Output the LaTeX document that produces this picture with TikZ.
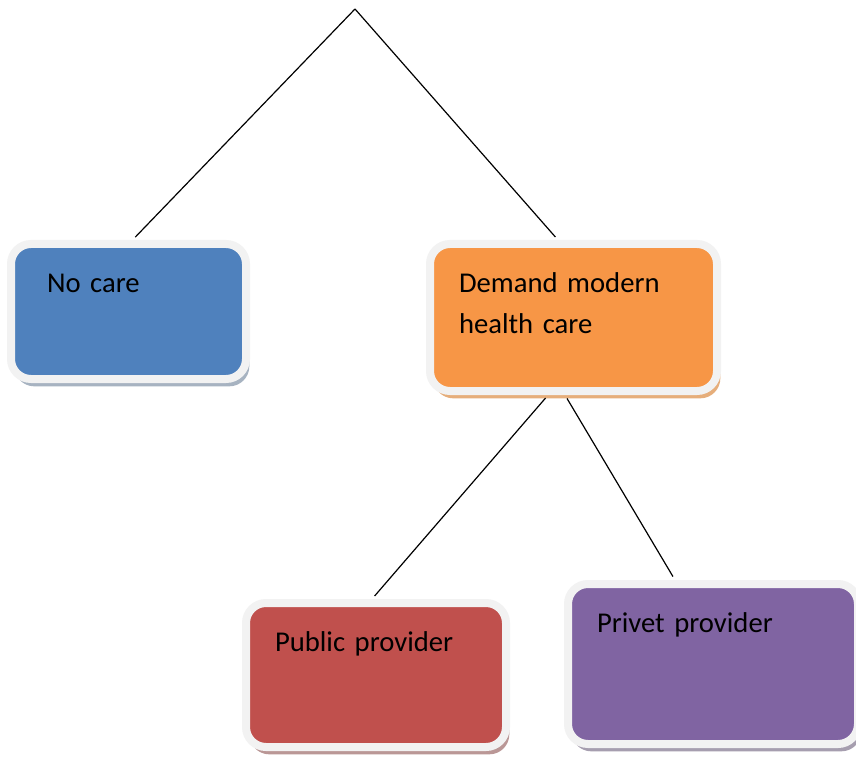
\documentclass[tikz,border=0pt]{standalone}
\usepackage{fontspec}
\setmainfont{Carlito}
\usetikzlibrary{shadows}

\definecolor{nocareblue}{HTML}{4F81BD}
\definecolor{demandorange}{HTML}{F79646}
\definecolor{publicred}{HTML}{C0504D}
\definecolor{privetpurple}{HTML}{8064A2}
\definecolor{rimgrey}{HTML}{F2F2F2}

\tikzset{
  choicebox/.style 2 args={rectangle, rounded corners=15pt, draw=rimgrey,
    line width=6pt, fill=#1, align=left, inner ysep=0pt, inner xsep=21.75pt,
    text height=36pt, font=\fontsize{21.5pt}{31pt}\selectfont,
    drop shadow={shadow xshift=2.5pt, shadow yshift=-5.5pt, fill=#2, opacity=1}},
  branch/.style={line width=0.9pt, shorten <=3pt, shorten >=3pt}
}

\begin{document}
\begin{tikzpicture}[x=0.75pt, y=-0.75pt]
    \useasboundingbox[fill=white] (0,0) rectangle (856,759);

    \coordinate (root) at (355,9);

    \node[choicebox={nocareblue}{nocareblue!40!gray!60}, inner xsep=27pt,
      text width=122.25pt, text depth=65.25pt] (nocare) at (128.5,311.5) {No care};
    \node[choicebox={demandorange}{demandorange!50!brown!70}, text width=171.75pt,
      text depth=74.25pt] (demand) at (573.5,317.5) {Demand modern\\health care};
    \node[choicebox={publicred}{publicred!45!gray!70}, text width=151.5pt,
      text depth=72pt] (public) at (376,675) {Public provider};
    \node[choicebox={privetpurple}{privetpurple!40!gray!70}, text width=174pt,
      text depth=84pt] (privet) at (713,664) {Privet provider};

    \draw[branch, shorten <=0pt] (root) -- ([xshift=3pt]nocare.north);
    \draw[branch, shorten <=0pt] (root) -- ([xshift=-11.6pt]demand.north);
    \draw[branch] ([xshift=-19pt]demand.south) -- ([xshift=-3pt]public.north);
    \draw[branch] ([xshift=-6.4pt]demand.south) -- ([xshift=-28.5pt]privet.north);
  \end{tikzpicture}
\end{document}
